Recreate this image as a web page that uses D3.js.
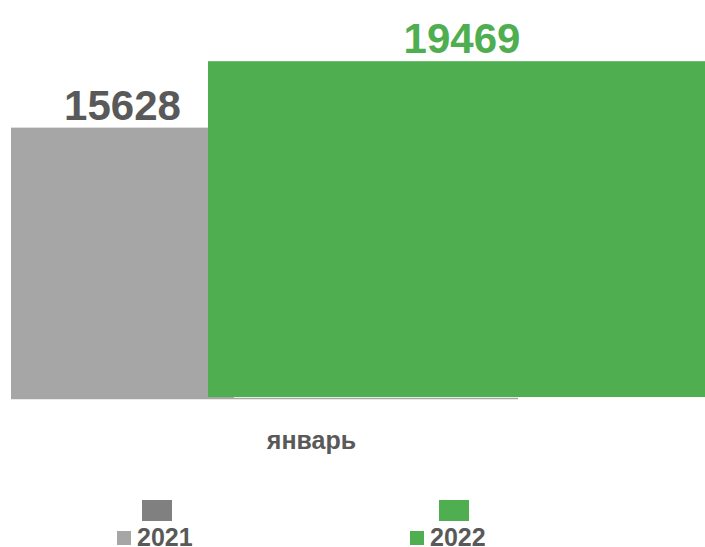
<!DOCTYPE html>
<html><head><meta charset="utf-8">
<script src="https://cdn.jsdelivr.net/npm/d3@7"></script>
<style>body{margin:0;background:#fff}svg{display:block}</style>
</head><body>
<script>
const categories = ["январь"];
const series = ["2021", "2022"];
const values2021 = [15628];
const values2022 = [19469];

const W = 705, H = 547;
const svg = d3.select("body").append("svg").attr("width", W).attr("height", H)
  .style("font-family", "'Liberation Sans', Arial, sans-serif");

const colors = d3.scaleOrdinal().domain(series).range(["#a6a6a6", "#4fae50"]);
const legendColors = d3.scaleOrdinal().domain(series).range(["#808080", "#4fae50"]);
const labelColors = d3.scaleOrdinal().domain(series).range(["#595959", "#4fae50"]);

const y = d3.scaleLinear().domain([0, 20000]).range([398, 52]);
// bar horizontal placement (overlapping bars)
const xStart = d3.scaleOrdinal().domain(series).range([11, 208]);
const xWidth = d3.scaleOrdinal().domain(series).range([223, 508]);

const data = [
  {s: "2021", v: values2021[0]},
  {s: "2022", v: values2022[0]}
];

// axis line
svg.append("line").attr("x1", 11).attr("x2", 518).attr("y1", 398.5).attr("y2", 398.5)
  .attr("stroke", "#a6a6a6").attr("stroke-width", 1.5);

svg.selectAll("rect.bar").data(data).enter().append("rect")
  .attr("class", "bar")
  .attr("x", d => xStart(d.s))
  .attr("width", d => xWidth(d.s))
  .attr("y", d => y(d.v))
  .attr("height", d => y(0) - y(d.v) + (d.s === "2021" ? 1 : -1))
  .attr("fill", d => colors(d.s));

svg.selectAll("text.val").data(data).enter().append("text")
  .attr("class", "val")
  .attr("x", d => xStart(d.s) + xWidth(d.s) / 2)
  .attr("y", d => y(d.v) - 8)
  .attr("text-anchor", "middle")
  .attr("font-size", 42).attr("font-weight", "bold")
  .attr("fill", d => labelColors(d.s))
  .text(d => d.v);

svg.append("text").attr("x", 311.5).attr("y", 449).attr("text-anchor", "middle")
  .attr("font-size", 25).attr("font-weight", "bold").attr("fill", "#595959")
  .text(categories[0]);

// legend
const legX = d3.scaleOrdinal().domain(series).range([117, 410]);
const legBoxX = d3.scaleOrdinal().domain(series).range([142, 439]);
const lg = svg.selectAll("g.leg").data(series).enter().append("g").attr("class", "leg");
lg.append("rect").attr("x", d => legBoxX(d)).attr("y", 500).attr("width", 30).attr("height", 21)
  .attr("fill", d => legendColors(d));
lg.append("rect").attr("x", d => legX(d)).attr("y", 531).attr("width", 14).attr("height", 14)
  .attr("fill", d => colors(d));
lg.append("text").attr("x", d => legX(d) + 20).attr("y", 545.5)
  .attr("font-size", 25).attr("font-weight", "bold").attr("fill", "#595959")
  .text(d => d);
</script>
</body></html>
